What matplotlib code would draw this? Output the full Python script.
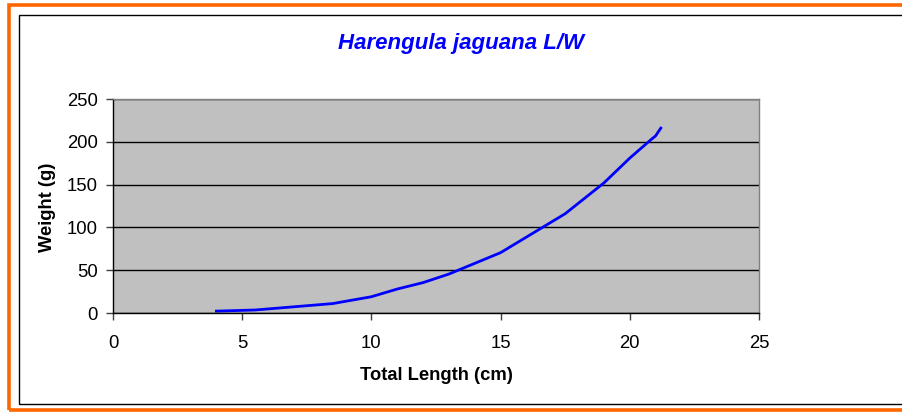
import matplotlib
matplotlib.use("Agg")
import matplotlib.pyplot as plt
from matplotlib.patches import Rectangle

length_cm = [4.0, 5.5, 8.5, 10.0, 11.0, 12.0, 13.0, 15.0, 17.5, 19.0, 20.0, 20.8, 21.0, 21.2]
weight_g = [2.2, 3.5, 11.0, 19.0, 28.0, 35.5, 45.5, 70.5, 116.0, 152.0, 181.0, 202.0, 207.0, 216.0]
x_ticks = [0, 5, 10, 15, 20, 25]
y_ticks = [0, 50, 100, 150, 200, 250]
title = "Harengula jaguana L/W"
xlabel = "Total Length (cm)"
ylabel = "Weight (g)"

plt.rcParams['font.family'] = ['Liberation Sans', 'DejaVu Sans']
W, H = 903, 413
fig = plt.figure(figsize=(W / 100, H / 100), dpi=100)

# borders
fig.add_artist(Rectangle((8.5 / W, (H - 410) / H), 2, (410 - 4.5) / H,
                         transform=fig.transFigure, fill=False,
                         edgecolor='#FF6600', linewidth=2.6))
fig.add_artist(Rectangle((18.5 / W, (H - 403.5) / H), 2, (403.5 - 14.5) / H,
                         transform=fig.transFigure, fill=False,
                         edgecolor='black', linewidth=1.0))

left, right, top, bottom = 113, 759, 99, 313
ax = fig.add_axes([left / W, (H - bottom) / H, (right - left) / W, (bottom - top) / H])
ax.set_facecolor('#C0C0C0')
ax.set_xlim(0, 25)
ax.set_ylim(0, 250)
ax.set_xticks(x_ticks)
ax.set_yticks(y_ticks)
ax.yaxis.grid(True, color='black', linewidth=1.0)
ax.set_axisbelow(True)
for s in ['top', 'right']:
    ax.spines[s].set_color('#808080')
    ax.spines[s].set_linewidth(1.0)
for s in ['left', 'bottom']:
    ax.spines[s].set_color('black')
    ax.spines[s].set_linewidth(1.0)
ax.tick_params(axis='both', direction='out', length=5, width=1, color='#404040',
               labelsize=13.3, pad=6)
ax.tick_params(axis='x', pad=11)

ax.plot(length_cm, weight_g, color='#0000FF', linewidth=2.0)

fig.text(461 / W, (H - 43) / H, title, color='#0000FF', fontsize=16,
         fontweight='bold', fontstyle='italic', ha='center', va='center')
fig.text(436 / W, (H - 376) / H, xlabel, fontsize=13.2, fontweight='bold',
         ha='center', va='center')
fig.text(47 / W, (H - 207) / H, ylabel, fontsize=13.2, fontweight='bold',
         ha='center', va='center', rotation=90)

fig.savefig("out.png", dpi=100)
